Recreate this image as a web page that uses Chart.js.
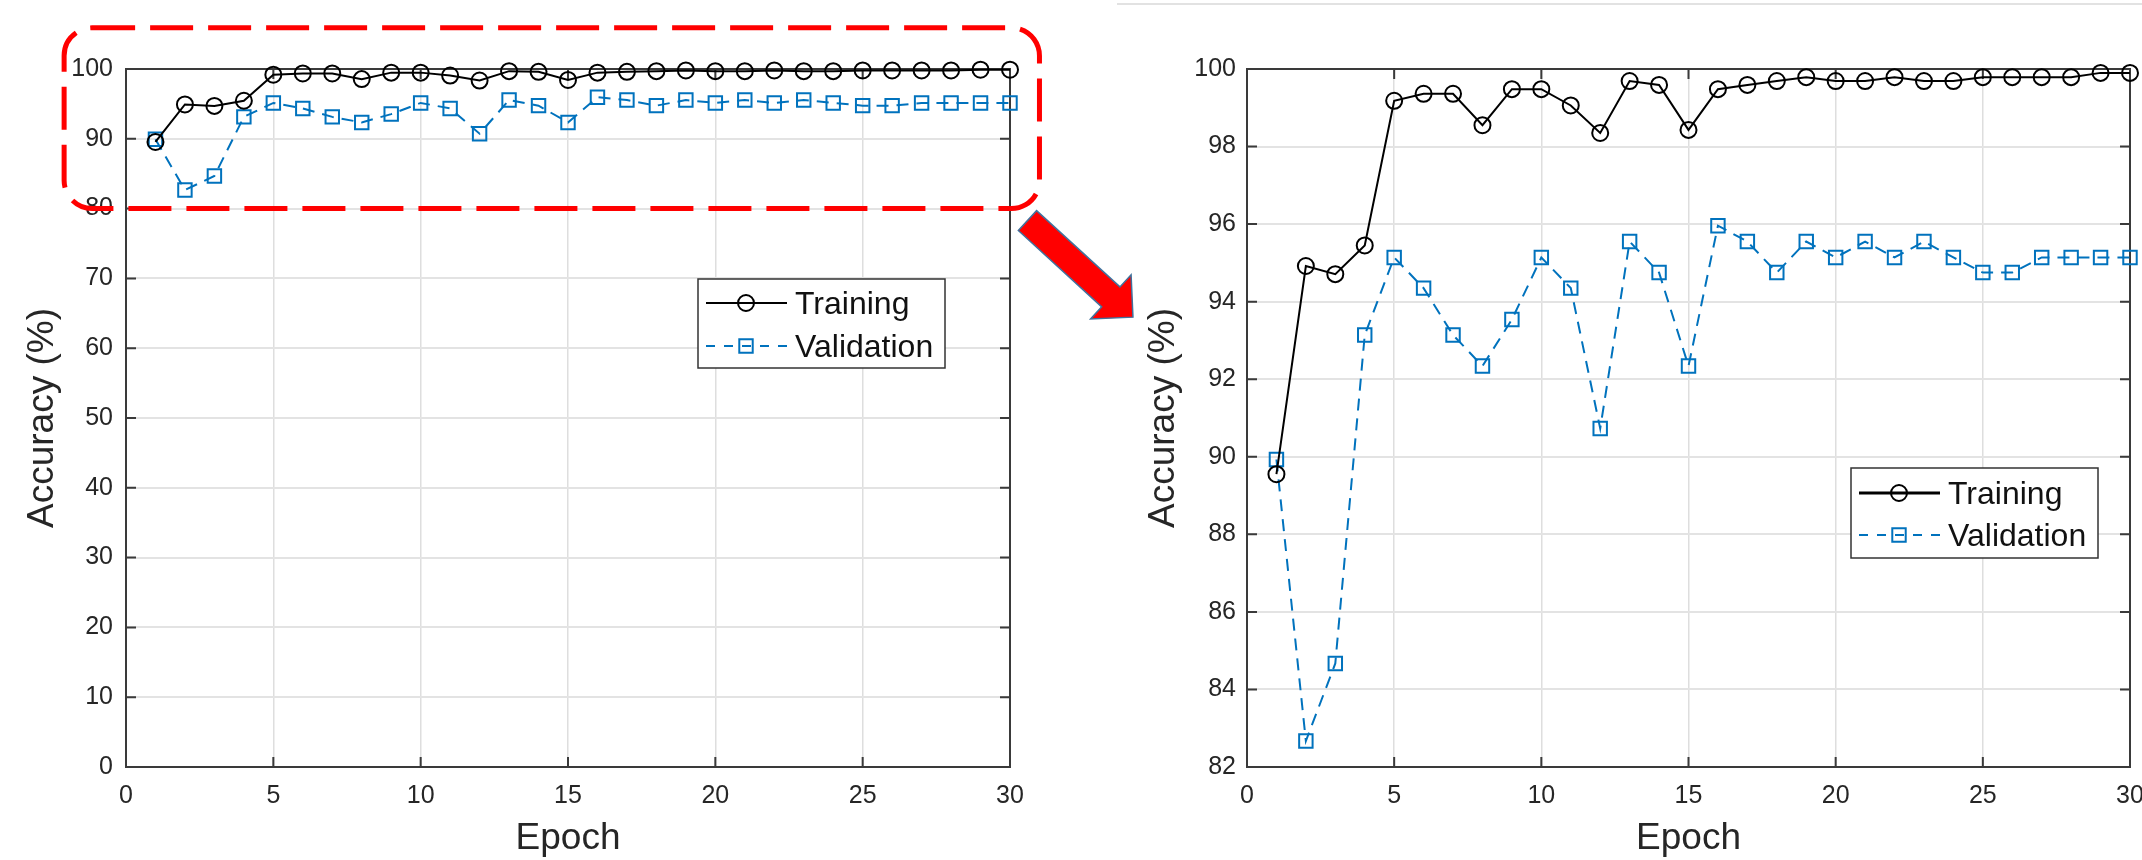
<!DOCTYPE html>
<html>
<head>
<meta charset="utf-8">
<title>Accuracy per epoch</title>
<script src="https://cdn.jsdelivr.net/npm/chart.js@4.4.1/dist/chart.umd.min.js"></script>
<style>
    body { margin: 0; background: #fff; width: 2142px; height: 860px; overflow: hidden; position: relative; }
    canvas { position: absolute; top: 0; }
    #fullChart { left: 0; }
    #zoomChart { left: 1100px; }
    #topRule { position: absolute; left: 1117px; top: 3px; width: 1025px; border-top: 2px solid #e2e2e2; }
</style>
</head>
<body>
<canvas id="fullChart" width="1160" height="860"></canvas>
<div id="topRule"></div>
<canvas id="zoomChart" width="1042" height="860"></canvas>
<script>
// values
const epochs = [1, 2, 3, 4, 5, 6, 7, 8, 9, 10, 11, 12, 13, 14, 15, 16, 17, 18, 19, 20, 21, 22, 23, 24, 25, 26, 27, 28, 29, 30];
const trainingAcc = [89.55, 94.92, 94.71, 95.45, 99.18, 99.36, 99.36, 98.55, 99.48, 99.48, 99.06, 98.35, 99.69, 99.59, 98.43,
                     99.48, 99.59, 99.69, 99.79, 99.69, 99.69, 99.79, 99.69, 99.69, 99.79, 99.79, 99.79, 99.79, 99.9, 99.9];
const validationAcc = [89.93, 82.67, 84.67, 93.14, 95.14, 94.35, 93.14, 92.34, 93.54, 95.14, 94.35, 90.73, 95.55, 94.75, 92.34,
                       95.96, 95.55, 94.75, 95.55, 95.14, 95.55, 95.14, 95.55, 95.14, 94.75, 94.75, 95.14, 95.14, 95.14, 95.14];
const seriesNames = ['Training', 'Validation'];
const epochRange = [0, 30, 5];      // min, max, step
const fullRange = [0, 100, 10];
const zoomRange = [82, 100, 2];
// red box on the left plot, in data units
const zoomBox = {xFrom: -2.1, xTo: 31, yFrom: 80, yTo: 105.9};

const FONT = '"Liberation Sans", Arial, sans-serif';
const TEXT = '#262626';
const BLUE = '#0072BD';

const toPoints = (vals) => epochs.map((e, i) => ({x: e, y: vals[i]}));

// box around the axes with inward ticks on all four sides (MATLAB look)
const matlabBox = {
    id: 'matlabBox',
    beforeDatasetsDraw(chart) {
        const {ctx, chartArea: a, scales} = chart;
        const len = 10;
        ctx.save();
        ctx.strokeStyle = '#3a3a3a';
        ctx.lineWidth = 2;
        ctx.strokeRect(a.left, a.top, a.right - a.left, a.bottom - a.top);
        ctx.beginPath();
        scales.x.ticks.forEach((t) => {
            const px = scales.x.getPixelForValue(t.value);
            ctx.moveTo(px, a.bottom); ctx.lineTo(px, a.bottom - len);
            ctx.moveTo(px, a.top); ctx.lineTo(px, a.top + len);
        });
        scales.y.ticks.forEach((t) => {
            const py = scales.y.getPixelForValue(t.value);
            ctx.moveTo(a.left, py); ctx.lineTo(a.left + len, py);
            ctx.moveTo(a.right, py); ctx.lineTo(a.right - len, py);
        });
        ctx.stroke();
        ctx.restore();
    }
};

const drawMarker = (ctx, ds, x, y) => {
    ctx.setLineDash([]);
    ctx.lineWidth = ds.pointBorderWidth;
    ctx.strokeStyle = ds.pointBorderColor;
    ctx.beginPath();
    if (ds.pointStyle === 'rect') {
        const h = ds.pointRadius * Math.SQRT1_2;
        ctx.rect(x - h, y - h, 2 * h, 2 * h);
    } else {
        ctx.arc(x, y, ds.pointRadius, 0, Math.PI * 2);
    }
    ctx.stroke();
};

// legend box placed inside the plot like the original
const boxLegend = {
    id: 'boxLegend',
    afterDatasetsDraw(chart, args, opts) {
        const {ctx} = chart;
        ctx.save();
        ctx.fillStyle = '#fff';
        ctx.fillRect(opts.x, opts.y, opts.w, opts.h);
        ctx.strokeStyle = '#333';
        ctx.lineWidth = 1.5;
        ctx.strokeRect(opts.x, opts.y, opts.w, opts.h);
        chart.data.datasets.forEach((ds, i) => {
            const rowY = opts.y + opts.rows[i];
            ctx.strokeStyle = ds.borderColor;
            ctx.lineWidth = i === 0 ? opts.lineWidth : ds.borderWidth;
            ctx.setLineDash(ds.borderDash ? [9, 9] : []);
            ctx.beginPath();
            ctx.moveTo(opts.x + 8, rowY);
            ctx.lineTo(opts.x + 89, rowY);
            ctx.stroke();
            drawMarker(ctx, ds, opts.x + 48, rowY);
            ctx.fillStyle = '#111';
            ctx.font = '32px ' + FONT;
            ctx.textBaseline = 'middle';
            ctx.fillText(ds.label, opts.x + 97, rowY + 2);
        });
        ctx.restore();
    }
};

// dashed red box + arrow pointing at the zoomed plot
const zoomMark = {
    id: 'zoomMark',
    afterDraw(chart) {
        const {ctx, scales} = chart;
        const l = scales.x.getPixelForValue(zoomBox.xFrom);
        const r = scales.x.getPixelForValue(zoomBox.xTo);
        const t = scales.y.getPixelForValue(zoomBox.yTo);
        const b = scales.y.getPixelForValue(zoomBox.yFrom);
        const rad = 28;
        ctx.save();
        ctx.strokeStyle = '#ff0000';
        ctx.lineWidth = 5;
        ctx.setLineDash([43, 15]);
        ctx.beginPath();
        ctx.moveTo(l + rad, t);
        ctx.arcTo(r, t, r, b, rad);
        ctx.arcTo(r, b, l, b, rad);
        ctx.arcTo(l, b, l, t, rad);
        ctx.arcTo(l, t, r, t, rad);
        ctx.closePath();
        ctx.stroke();

        ctx.setLineDash([]);
        ctx.translate(r - 12, b + 12);
        ctx.rotate(Math.atan2(97, 106));
        ctx.beginPath();
        ctx.moveTo(0, -13.5);
        ctx.lineTo(113, -13.5);
        ctx.lineTo(113, -30);
        ctx.lineTo(143, 0);
        ctx.lineTo(113, 30);
        ctx.lineTo(113, 13.5);
        ctx.lineTo(0, 13.5);
        ctx.closePath();
        ctx.fillStyle = '#ff0000';
        ctx.fill();
        ctx.strokeStyle = '#41719c';
        ctx.lineWidth = 1.5;
        ctx.stroke();
        ctx.restore();
    }
};

const buildChart = (canvasId, yRange, layout) => {
    const datasets = [{
        label: seriesNames[0],
        data: toPoints(trainingAcc),
        borderColor: '#000',
        backgroundColor: 'transparent',
        borderWidth: 2,
        pointStyle: 'circle',
        pointRadius: 8,
        pointBorderWidth: 2,
        pointBorderColor: '#000',
        pointBackgroundColor: 'transparent',
        clip: false
    }, {
        label: seriesNames[1],
        data: toPoints(validationAcc),
        borderColor: BLUE,
        backgroundColor: 'transparent',
        borderWidth: 2,
        borderDash: [12, 8],
        pointStyle: 'rect',
        pointRadius: 9.5,
        pointBorderWidth: 2,
        pointBorderColor: BLUE,
        pointBackgroundColor: 'transparent',
        clip: false
    }];

    const plugins = [matlabBox, boxLegend];
    if (layout.zoomMark) plugins.push(zoomMark);

    return new Chart(document.getElementById(canvasId), {
        type: 'line',
        data: {datasets},
        plugins,
        options: {
            responsive: false,
            animation: false,
            events: [],
            layout: {padding: {left: 0, top: 69, right: layout.padRight, bottom: 0}},
            plugins: {
                legend: {display: false},
                tooltip: {enabled: false},
                boxLegend: layout.legend
            },
            scales: {
                x: {
                    type: 'linear',
                    min: epochRange[0],
                    max: epochRange[1],
                    ticks: {stepSize: epochRange[2], padding: 14, color: TEXT, font: {family: FONT, size: 25}},
                    grid: {color: '#dedede', lineWidth: 1.5, drawTicks: false},
                    border: {display: false},
                    title: {display: true, text: 'Epoch', color: TEXT,
                            font: {family: FONT, size: 37, lineHeight: 1.12}, padding: {top: 0, bottom: 0}},
                    afterFit: (s) => { s.height = 93; s.paddingLeft = 0; s.paddingRight = 0; }
                },
                y: {
                    type: 'linear',
                    min: yRange[0],
                    max: yRange[1],
                    ticks: {stepSize: yRange[2], padding: layout.yTickPad, color: TEXT, font: {family: FONT, size: 25}},
                    grid: {color: '#e3e3e3', lineWidth: 2, drawTicks: false},
                    border: {display: false},
                    title: {display: true, text: 'Accuracy (%)', color: TEXT,
                            font: {family: FONT, size: 37, lineHeight: 1.12}, padding: {top: layout.yTitlePad, bottom: 0}},
                    afterFit: (s) => { s.width = layout.yWidth; s.paddingTop = 0; s.paddingBottom = 0; }
                }
            }
        }
    });
};

buildChart('fullChart', fullRange, {
    padRight: 150, yWidth: 126, yTickPad: 13, yTitlePad: 22, zoomMark: true,
    legend: {x: 698, y: 279, w: 247, h: 89, rows: [24, 67], lineWidth: 2}
});
buildChart('zoomChart', zoomRange, {
    padRight: 12, yWidth: 147, yTickPad: 11, yTitlePad: 43, zoomMark: false,
    legend: {x: 751, y: 468, w: 247, h: 90, rows: [25, 67], lineWidth: 3}
});
</script>
</body>
</html>
